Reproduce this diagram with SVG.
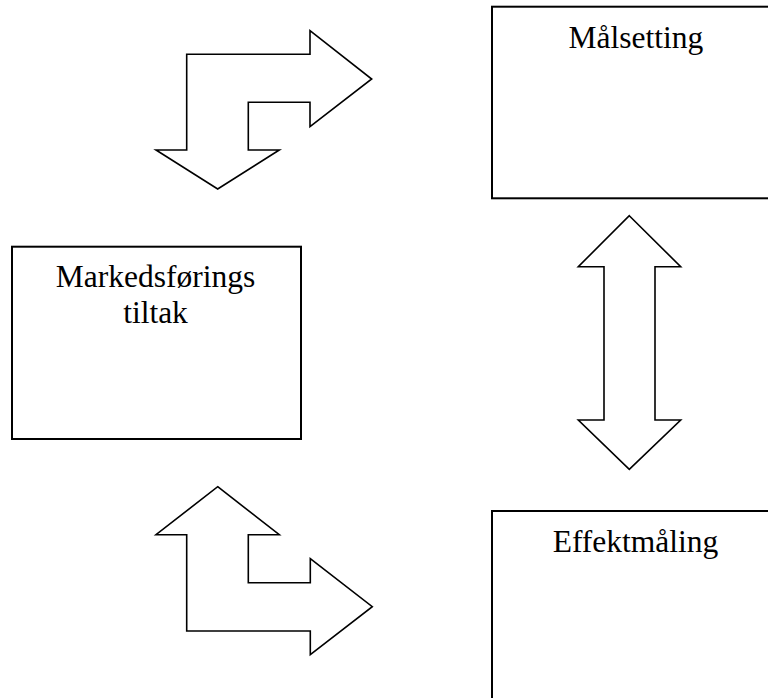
<svg xmlns="http://www.w3.org/2000/svg" width="768" height="698" viewBox="0 0 768 698">
  <style>
    .box { fill: #ffffff; stroke: #000000; stroke-width: 2; }
    .arrow { fill: #ffffff; stroke: #000000; stroke-width: 1.6; stroke-linejoin: miter; }
    .label { font-family: "Liberation Serif", "Times New Roman", serif; font-size: 31.5px; fill: #000000; text-anchor: middle; }
  </style>
  <rect width="768" height="698" fill="#ffffff"/>

  <g id="connectors">
    <!-- bent arrow: top left, pointing right and down -->
    <polygon class="arrow" points="186.7,54.3 310,54.3 310,30.7 371.7,79 310,126.7 310,102.3 248.3,102.3 248.3,150 279.3,150 217.7,189 156,150 186.7,150"/>
    <!-- double vertical arrow between Målsetting and Effektmåling -->
    <polygon class="arrow" points="629.3,215.7 680.7,266.7 655,266.7 655,420 680.7,420 629.3,469.3 578.3,420 604,420 604,266.7 578.3,266.7"/>
    <!-- bent arrow: bottom left, pointing up and right -->
    <polygon class="arrow" points="217.7,486.7 279.3,534.7 248.3,534.7 248.3,582.7 310.3,582.7 310.3,558.7 372.3,606.7 310.3,654.7 310.3,631 186.7,631 186.7,534.7 156,534.7"/>
  </g>

  <g id="node-malsetting">
    <rect class="box" x="492" y="6.7" width="280" height="191.6"/>
    <text class="label" x="635.8" y="48.3">Målsetting</text>
  </g>

  <g id="node-markedsforing">
    <rect class="box" x="12" y="246.7" width="289" height="192.3"/>
    <text class="label" x="155.5" y="286.7">Markedsførings</text>
    <text class="label" x="155.5" y="322.7">tiltak</text>
  </g>

  <g id="node-effektmaling">
    <rect class="box" x="492" y="511" width="280" height="200"/>
    <text class="label" x="635.5" y="551.7">Effektmåling</text>
  </g>
</svg>
